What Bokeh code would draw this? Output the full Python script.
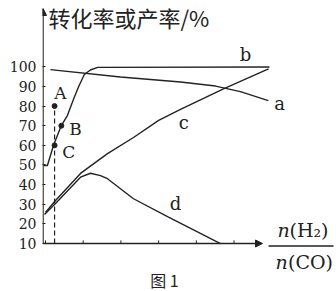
from bokeh.plotting import figure
from bokeh.models import Label, Arrow, NormalHead, FixedTicker, Range1d
from bokeh.embed import file_html
from bokeh.resources import INLINE

# curve data (x in tick units, y in %)
a_x = [1.13, 2.99, 4.58, 5.51, 6.17, 6.91]
a_y = [98.6, 94.8, 92.3, 90.2, 87.4, 82.8]
b_x = [0.95, 1.05, 1.22, 1.42, 1.58, 1.75, 1.88, 2.03, 2.19, 2.38, 6.94]
b_y = [49.7, 49.7, 60.4, 70.1, 75.2, 83.9, 90.0, 96.1, 98.4, 99.7, 99.9]
c_x = [1.0, 1.265, 1.928, 2.644, 3.334, 4.0, 4.58, 5.72, 6.915]
c_y = [25.8, 31.9, 45.7, 55.8, 64.0, 72.7, 78.3, 88.8, 99.0]
d_x = [0.973, 1.265, 1.928, 2.193, 2.459, 2.644, 3.334, 4.262, 5.641]
d_y = [24.8, 30.4, 43.8, 45.8, 44.6, 43.0, 32.8, 23.4, 10.0]

pt_x = [1.24, 1.42, 1.24]
pt_y = [80, 70, 60]
pt_names = ["A", "B", "C"]

x_ticks = [1, 2, 3, 4, 5, 6]
y_ticks = [10, 20, 30, 40, 50, 60, 70, 80, 90, 100]

INK = "#222222"
SERIF = "DejaVu Serif"

XA = 0.935          # where the y axis stands
X0, X1 = 0.92, 8.718
Y0, Y1 = -14.45, 133.79
YA = 10             # where the x axis stands
X_ARROW_END = 6.756
Y_ARROW_END = 129.7

p = figure(width=336, height=291, x_range=Range1d(X0, X1), y_range=Range1d(Y0, Y1),
           output_backend="svg", toolbar_location=None, x_axis_location=None,
           min_border_left=42, min_border_right=0, min_border_top=0, min_border_bottom=0)
p.outline_line_color = None
p.xgrid.visible = False
p.ygrid.visible = False

ax = p.yaxis[0]
ax.axis_line_color = None
ax.major_tick_in = 3
ax.major_tick_out = 0
ax.minor_tick_line_color = None
ax.major_tick_line_color = INK
ax.major_tick_line_width = 1
ax.ticker = FixedTicker(ticks=y_ticks)
ax.major_label_text_font = SERIF
ax.major_label_text_font_size = "14px"
ax.major_label_text_color = INK
ax.major_label_standoff = 6

# axis arrows
p.add_layout(Arrow(end=NormalHead(size=7, fill_color=INK, line_color=INK, line_width=1),
                   x_start=XA, y_start=YA, x_end=XA, y_end=Y_ARROW_END, line_color=INK, line_width=1.3))
p.add_layout(Arrow(end=NormalHead(size=7, fill_color=INK, line_color=INK, line_width=1),
                   x_start=XA, y_start=YA, x_end=X_ARROW_END, y_end=YA, line_color=INK, line_width=1.3))
# x tick marks (pointing up, inside)
p.segment(x0=x_ticks, y0=[YA] * len(x_ticks), x1=x_ticks, y1=[YA + 1.6] * len(x_ticks),
          line_color=INK, line_width=1)

for xs, ys in ((a_x, a_y), (b_x, b_y), (c_x, c_y), (d_x, d_y)):
    p.line(xs, ys, line_color=INK, line_width=1.4)

# dashed drop line from A
p.line([pt_x[0], pt_x[0]], [YA, pt_y[0]], line_color=INK, line_width=1.2, line_dash="5 3")
p.scatter(pt_x, pt_y, size=5, color=INK)

def lab(x, y, t, size, font=SERIF, align="center", style="normal"):
    p.add_layout(Label(x=x, y=y, text=t, text_font=font, text_font_size=size,
                       text_align=align, text_baseline="middle", text_color=INK,
                       text_font_style=style))

# point labels
lab(1.397, 86.9, pt_names[0], "17px")
lab(1.795, 68.4, pt_names[1], "17px")
lab(1.618, 56.5, pt_names[2], "17px")
# curve labels
lab(7.206, 81.3, "a", "18px")
lab(6.305, 106.3, "b", "18px")
lab(4.668, 71.8, "c", "18px")
lab(4.448, 30.4, "d", "18px")

# y-axis title
lab(1.079, 125.6, "转化率或产率/%", "22px", font="Noto Sans CJK SC", align="left")

# x-axis fraction label
lab(7.153, 17.1, "n", "19px", align="left", style="italic")
lab(7.472, 17.1, "(H₂)", "19px", align="left")
lab(7.100, 0.8, "n", "19px", align="left", style="italic")
lab(7.432, 0.8, "(CO)", "19px", align="left")
p.line([6.915, 8.639], [8.73, 8.73], line_color=INK, line_width=1.3)

# caption
lab(4.156, -8.6, "图 1", "16px", font="Noto Sans CJK SC")

open("out.html", "w").write(file_html(p, INLINE))
